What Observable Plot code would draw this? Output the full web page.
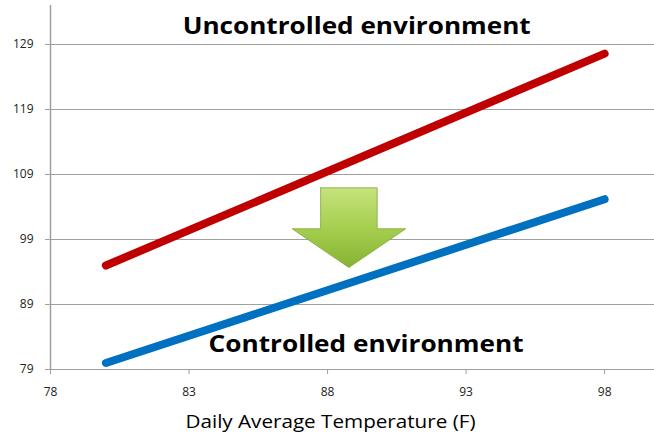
<!DOCTYPE html>
<html><head><meta charset="utf-8">
<script src="https://cdn.jsdelivr.net/npm/d3@7"></script>
<script src="https://cdn.jsdelivr.net/npm/@observablehq/plot@0.6"></script>
<style>
body{margin:0;background:#fff;}
#chart svg{display:block;}
</style>
</head><body><div id="chart"></div>
<script>
// Data
const temps = [80, 98];
const uncontrolled = [95, 127.6];
const controlled = [80, 105.2];
const xTicks = [78, 83, 88, 93, 98];
const yTicks = [79, 89, 99, 109, 119, 129];
const seriesNames = ["Uncontrolled environment", "Controlled environment"];
const xLabel = "Daily Average Temperature (F)";
// annotation anchors (data units)
const labelX = [89.05, 89.39];
const labelY = [131.77, 82.95];
// down-arrow outline (data units)
const arrowX = [87.75, 89.79, 89.79, 90.82, 88.77, 86.72, 87.75, 87.75];
const arrowY = [106.95, 106.95, 100.65, 100.65, 94.69, 100.65, 100.65, 106.95];

const uncData = temps.map((t, i) => ({t, v: uncontrolled[i]}));
const conData = temps.map((t, i) => ({t, v: controlled[i]}));
const arrowData = arrowX.map((x, i) => ({x, y: arrowY[i]}));
const labels = seriesNames.map((name, i) => ({name, x: labelX[i], y: labelY[i]}));

const chart = Plot.plot({
  width: 654,
  height: 435,
  marginLeft: 50,
  marginRight: 0,
  marginTop: 5,
  marginBottom: 66,
  style: {fontFamily: "'Open Sans', sans-serif", background: "#fff"},
  x: {domain: [78, 99.8]},
  y: {domain: [79, 135]},
  marks: [
    Plot.ruleY(yTicks, {stroke: "#a0a0a0", strokeWidth: 1}),
    Plot.ruleX([78], {stroke: "#a0a0a0", strokeWidth: 1.5}),
    Plot.axisY(yTicks, {tickSize: 5, tickPadding: 12, fontSize: 12, stroke: "#a0a0a0", fill: "#222", label: null}),
    Plot.axisX(xTicks, {tickSize: 5, tickPadding: 13, fontSize: 12, stroke: "#a0a0a0", fill: "#222", label: null}),
    Plot.line(uncData, {x: "t", y: "v", stroke: "#c00000", strokeWidth: 8, strokeLinecap: "round"}),
    Plot.line(conData, {x: "t", y: "v", stroke: "#0070c0", strokeWidth: 8, strokeLinecap: "round"}),
    Plot.line(arrowData, {x: "x", y: "y", fill: "url(#arrowGrad)", stroke: "#7fa83a", strokeWidth: 0.8, strokeLinejoin: "round"}),
    Plot.text(labels, {x: "x", y: "y", text: "name", fontSize: 24, fontWeight: "bold", fill: "#000", lineAnchor: "middle", className: "series-label"}),
    Plot.text([xLabel], {frameAnchor: "bottom", dx: -22, dy: 52, fontSize: 19, fill: "#000", lineAnchor: "middle", className: "x-label"})
  ]
});

const ns = "http://www.w3.org/2000/svg";
const defs = document.createElementNS(ns, "defs");
defs.innerHTML = `<linearGradient id="arrowGrad" x1="0" y1="0" x2="0" y2="1">
  <stop offset="0" stop-color="#c6e27e"/>
  <stop offset="0.5" stop-color="#a6cf4f"/>
  <stop offset="1" stop-color="#86b232"/>
</linearGradient>`;
chart.insertBefore(defs, chart.firstChild);
document.getElementById("chart").appendChild(chart);

// stretch labels horizontally to the reference's widths
const widths = [348, 315];
chart.querySelectorAll("g.series-label text").forEach((t, i) => {
  t.setAttribute("textLength", widths[i]);
  t.setAttribute("lengthAdjust", "spacingAndGlyphs");
});
chart.querySelectorAll("g.x-label text").forEach(t => {
  t.setAttribute("textLength", 290);
  t.setAttribute("lengthAdjust", "spacingAndGlyphs");
});
</script>
</body></html>
